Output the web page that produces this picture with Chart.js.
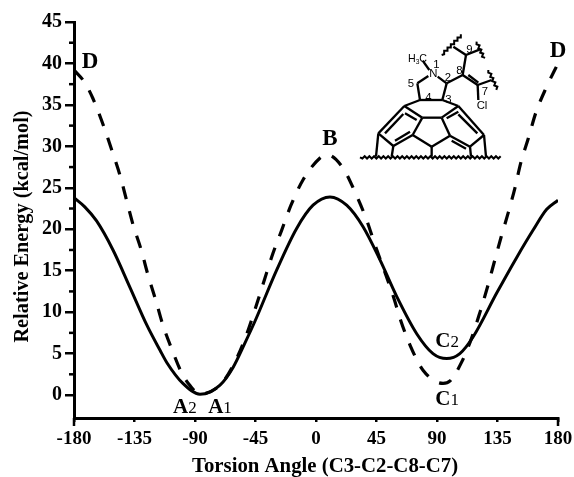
<!DOCTYPE html>
<html>
<head>
<meta charset="utf-8">
<style>
  html, body { margin: 0; padding: 0; background: #fff; }
  #wrap { position: relative; width: 574px; height: 477px; overflow: hidden; }
  #molecule { position: absolute; left: 340px; top: 20px; }
  #molecule text { font-family: "Liberation Sans", sans-serif; font-size: 34px; fill: #000; }
</style>
<script src="https://cdn.jsdelivr.net/npm/chart.js@4"></script>
</head>
<body>
<div id="wrap">
  <canvas id="energyChart" width="574" height="477"></canvas>
  <svg id="molecule" width="180" height="160" viewBox="0 0 540 480"></svg>
</div>
<script>
// Curves
var solidAngle = [-180, -172, -163.2, -151, -138.4, -125.7, -116, -110.9, -99, -86.3, -71.4, -61.8, -52.8, -45.4, -29.2, -14.4, -2.2, 10.4, 22.8, 35, 47.6, 60, 74.9, 87, 97.2, 107, 116.8, 134.4, 149.3, 161.5, 171.6, 180];
var solidEnergy = [23.8, 22.7, 21, 17.5, 13, 8.4, 5.4, 3.9, 1.4, 0.1, 1.2, 3.3, 6.3, 8.9, 15.1, 20.1, 22.9, 23.9, 22.9, 20.3, 16.3, 11.9, 7.4, 5, 4.4, 5, 7, 12.3, 16.6, 19.9, 22.4, 23.5];
var dashAngle = [-180, -172, -166, -159.2, -152, -145.8, -140.9, -136, -130, -125, -119.3, -113.8, -107.4, -99.7, -94, -86.3, -71.4, -61.8, -52.8, -44, -38, -32, -25.5, -18.6, -9.5, 3, 8, 20, 29.8, 37.7, 43.9, 49.9, 57.3, 63, 70, 79.6, 94.5, 99.7, 108.4, 115.8, 122, 127.5, 133.2, 137.6, 143, 148, 152.3, 158, 163.4, 171, 180];
var dashEnergy = [39.2, 37.7, 35.8, 33, 29.6, 26.5, 23.5, 20.5, 17.5, 14.5, 11.5, 8.4, 5.6, 2.6, 1.2, 0.1, 1.2, 3.5, 6.8, 11, 14.1, 17.1, 19.9, 22.9, 26, 28.6, 29, 27.4, 24.2, 21.1, 18.1, 15.4, 12, 9, 6, 3, 1.4, 1.7, 4, 6.9, 10, 13, 16.4, 19, 22, 25, 28, 31, 34, 37, 40];

var xTicks = [-180, -135, -90, -45, 0, 45, 90, 135, 180];
var xEndTicks = [-180, 180];
var yTicks = [0, 5, 10, 15, 20, 25, 30, 35, 40, 45];
var yMinorTicks = [2.5, 7.5, 12.5, 17.5, 22.5, 27.5, 32.5, 37.5, 42.5];

// Point labels on the curves: letter, subscript, angle, energy
var labelLetters = ['D', 'D', 'B', 'A', 'A', 'C', 'C'];
var labelDigits = ['', '', '', '2', '1', '2', '1'];
var labelAngles = [-168, 180, 10.4, -97.5, -71.4, 97.5, 97.5];
var labelEnergies = [39.4, 40.8, 30.2, -2.2, -2.2, 5.8, -1.2];

var xTitle = 'Torsion Angle (C3-C2-C8-C7)';
var yTitle = 'Relative Energy (kcal/mol)';

var serif = '"Liberation Serif", serif';

// Shorter ticks the axes can't draw by themselves, axis titles and curve labels
var extrasPlugin = {
    id: 'extras',
    afterDraw: function (chart) {
        var c = chart.ctx, xs = chart.scales.x, ys = chart.scales.y;
        c.save();
        c.strokeStyle = '#000';
        c.lineWidth = 2.5;
        yMinorTicks.forEach(function (v) {
            var py = ys.getPixelForValue(v);
            c.beginPath();
            c.moveTo(xs.left - 5, py);
            c.lineTo(xs.left, py);
            c.stroke();
        });
        xEndTicks.forEach(function (v) {
            var px = xs.getPixelForValue(v);
            c.beginPath();
            c.moveTo(px, ys.bottom);
            c.lineTo(px, ys.bottom + 8);
            c.stroke();
        });
        c.fillStyle = '#000';
        c.textBaseline = 'alphabetic';
        c.font = 'bold 20.8px ' + serif;
        c.textAlign = 'center';
        c.fillText(xTitle, 325, 472);
        c.save();
        c.translate(28, 226.5);
        c.rotate(-Math.PI / 2);
        c.font = 'bold 20.3px ' + serif;
        c.fillText(yTitle, 0, 0);
        c.restore();
        labelLetters.forEach(function (letter, i) {
            var px = xs.getPixelForValue(labelAngles[i]);
            var py = ys.getPixelForValue(labelEnergies[i]);
            var digit = labelDigits[i];
            if (digit) {
                c.font = 'bold 21px ' + serif;
                var w = c.measureText(letter).width;
                c.font = '17px ' + serif;
                var d = c.measureText(digit).width;
                c.textAlign = 'left';
                c.font = 'bold 21px ' + serif;
                c.fillText(letter, px - (w + d) / 2, py);
                c.font = '17px ' + serif;
                c.fillText(digit, px - (w + d) / 2 + w, py);
            } else {
                c.font = 'bold 23px ' + serif;
                c.textAlign = 'center';
                c.fillText(letter, px, py);
            }
        });
        c.restore();
    }
};

var ctx = document.getElementById('energyChart').getContext('2d');
var energyChart = new Chart(ctx, {
    type: 'line',
    data: {
        datasets: [{
            label: 'Dashed',
            data: dashAngle.map(function (a, i) { return { x: a, y: dashEnergy[i] }; }),
            borderColor: '#000',
            borderWidth: 3.2,
            borderDash: [13, 12.5],
            pointRadius: 0,
            fill: false,
            cubicInterpolationMode: 'monotone'
        }, {
            label: 'Solid',
            data: solidAngle.map(function (a, i) { return { x: a, y: solidEnergy[i] }; }),
            borderColor: '#000',
            borderWidth: 3,
            pointRadius: 0,
            fill: false,
            cubicInterpolationMode: 'monotone'
        }]
    },
    options: {
        responsive: false,
        animation: false,
        layout: { padding: { top: 22, right: 16, left: 0, bottom: 0 } },
        plugins: { legend: { display: false }, tooltip: { enabled: false } },
        scales: {
            x: {
                type: 'linear',
                min: -180,
                max: 180,
                afterFit: function (s) { s.height = 59; s.paddingRight = 0; s.paddingLeft = 0; },
                afterBuildTicks: function (s) { s.ticks = xTicks.map(function (v) { return { value: v }; }); },
                border: { color: '#000', width: 3 },
                grid: { drawOnChartArea: false, color: '#000', lineWidth: 2.5, tickLength: 4 },
                ticks: { color: '#000', font: { family: serif, weight: 'bold', size: 19 }, padding: 6, maxRotation: 0, autoSkip: false }
            },
            y: {
                min: -2.77,
                max: 45,
                afterFit: function (s) { s.width = 74; },
                afterBuildTicks: function (s) { s.ticks = yTicks.map(function (v) { return { value: v }; }); },
                border: { color: '#000', width: 3 },
                grid: { drawOnChartArea: false, color: '#000', lineWidth: 2.5, tickLength: 9 },
                ticks: { color: '#000', font: { family: serif, weight: 'bold', size: 20 }, padding: 3, autoSkip: false }
            }
        }
    },
    plugins: [extrasPlugin]
});

// Molecule inset, in its own little drawing space
var bonds = [
    [248,122,268,150], [265,168,232,190], [232,190,240,240], [293,170,320,190], [320,190,307,240], [240,240,307,240],
    [320,190,368,165], [368,165,378,105], [378,105,340,80], [378,105,420,88], [368,165,413,195], [385,165,415,188],
    [413,195,415,240], [413,195,455,180],
    [240,240,193,258], [307,240,355,258], [193,258,115,340], [355,258,432,345], [193,258,247,293], [355,258,305,293],
    [247,293,305,293], [115,340,160,378], [432,345,390,380], [160,378,218,345], [390,380,330,347], [247,293,218,345],
    [305,293,330,347], [218,345,275,380], [330,347,275,380],
    [195,280,230,300], [320,295,355,275], [135,340,190,282], [165,362,210,335], [355,283,412,340], [335,362,378,386],
    [115,340,108,410], [160,378,155,410], [275,380,275,410], [390,380,393,410], [432,345,438,410]
];
var wiggles = [[60,412,482,412], [305,105,365,45], [410,65,432,115], [445,150,472,208]];
var atomText = ['5', '1', '2', '4', '3', '8', '9', '7', 'Cl', 'N'];
var atomX = [203, 280, 314, 256, 316, 349, 379, 425, 410, 268];
var atomY = [201, 145, 183, 243, 248, 161, 99, 226, 268, 172];

var svg = document.getElementById('molecule');
var ns = 'http://www.w3.org/2000/svg';
function addPath(d, w) {
    var p = document.createElementNS(ns, 'path');
    p.setAttribute('d', d);
    p.setAttribute('fill', 'none');
    p.setAttribute('stroke', '#000');
    p.setAttribute('stroke-width', w);
    svg.appendChild(p);
}
function addText(str, x, y, size) {
    var t = document.createElementNS(ns, 'text');
    t.setAttribute('x', x);
    t.setAttribute('y', y);
    if (size) t.setAttribute('style', 'font-size:' + size + 'px');
    t.textContent = str;
    svg.appendChild(t);
    return t;
}
bonds.forEach(function (b) {
    addPath('M' + b[0] + ' ' + b[1] + 'L' + b[2] + ' ' + b[3], 7);
});
wiggles.forEach(function (w) {
    var dx = w[2] - w[0], dy = w[3] - w[1], len = Math.sqrt(dx * dx + dy * dy);
    var n = Math.round(len / 7), d = 'M' + w[0] + ' ' + w[1];
    for (var i = 1; i <= n; i++) {
        var s = i % 2 ? 3.5 : -3.5;
        d += 'L' + (w[0] + dx * i / n - dy / len * s) + ' ' + (w[1] + dy * i / n + dx / len * s);
    }
    addPath(d, 6);
});
atomText.forEach(function (str, i) { addText(str, atomX[i], atomY[i]); });
addText('H', 204, 125, 32);
addText('3', 227, 132, 20);
addText('C', 238, 125, 32);
</script>
</body>
</html>
